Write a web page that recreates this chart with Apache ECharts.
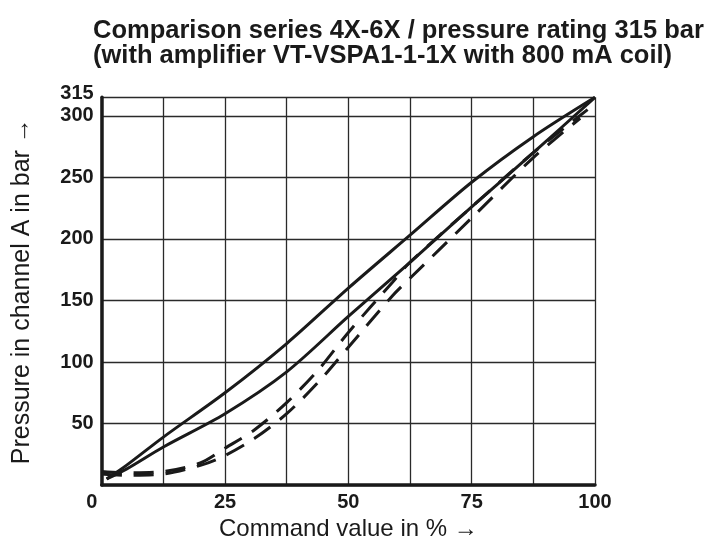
<!DOCTYPE html>
<html>
<head>
<meta charset="utf-8">
<script src="https://cdn.jsdelivr.net/npm/echarts@6/dist/echarts.min.js"></script>
<style>
html,body{margin:0;padding:0;background:#fff;}
#chart{width:713px;height:546px;}
</style>
</head>
<body>
<div id="chart"></div>
<script>
// Title lines
const titleLines = [
  'Comparison series 4X-6X / pressure rating 315 bar',
  '(with amplifier VT-VSPA1-1-1X with 800 mA coil)'
];
const xAxisName = 'Command value in % \u2192';
const yAxisName = 'Pressure in channel A in bar \u2192';
const xLabelValues = [0, 25, 50, 75, 100];
const yLabelValues = [50, 100, 150, 200, 250, 300, 315];

// Series 4X (solid) hysteresis loop: [command %, pressure bar]
const solidUpper = [[1, 5], [5, 16], [12.5, 39], [25, 75], [37.5, 115], [50, 160], [62.5, 203], [75, 246], [87.5, 283], [100, 315]];
const solidLower = [[1, 5], [5, 13], [12.5, 31], [25, 58], [37.5, 92], [50, 137], [62.5, 181], [75, 226], [87.5, 270], [100, 315]];
// Series 6X (dashed) hysteresis loop
const dashedUpper = [[0, 11], [5, 10], [12.5, 11], [20, 18], [25, 30], [31, 45], [37.5, 67], [44, 94], [50, 124], [59, 165], [62.5, 181], [75, 226], [87.5, 270], [98.5, 305]];
const dashedLower = [[0, 9], [5, 8], [12.5, 9], [20, 16], [25, 24], [31, 38], [37.5, 58], [44, 84], [50, 112], [59, 154], [62.5, 168], [75, 217], [87.5, 266], [97, 298]];

const ink = '#1a1a1a';
const labelFont = "'Liberation Sans',Arial,sans-serif";
const textFont = "'Liberation Sans',Arial,sans-serif";

const chart = echarts.init(document.getElementById('chart'), null, {renderer: 'canvas'});

function lineSeries(data, dashed) {
  return {
    type: 'line',
    data: data,
    smooth: 0.3,
    symbol: 'none',
    silent: true,
    lineStyle: {color: ink, width: 3, type: dashed ? [20, 12] : 'solid', cap: 'butt'},
    z: 5
  };
}

chart.setOption({
  animation: false,
  backgroundColor: '#fff',
  graphic: [
    {type: 'text', left: 93, top: 18.3, style: {text: titleLines[0], font: "bold 25.5px " + textFont, fill: ink}},
    {type: 'text', left: 93, top: 43, style: {text: titleLines[1], font: "bold 25.5px " + textFont, fill: ink}}
  ],
  grid: {left: 101.7, right: 118, top: 97.3, bottom: 55.3, containLabel: false},
  xAxis: {
    type: 'value', min: 0, max: 100, interval: 12.5,
    name: xAxisName, nameLocation: 'middle', nameGap: 31,
    nameTextStyle: {fontFamily: textFont, fontSize: 24, color: ink},
    axisLine: {show: true, onZero: false, lineStyle: {color: ink, width: 3.5}},
    axisTick: {show: false},
    splitLine: {show: true, lineStyle: {color: '#2a2a2a', width: 1.3}},
    axisLabel: {
      margin: 7, color: ink, fontFamily: labelFont, fontWeight: 'bold', fontSize: 20,
      formatter: function (v) {
        if (xLabelValues.indexOf(v) < 0) return '';
        if (v === 0) return '{z|0}';
        return String(v);
      },
      rich: {z: {fontFamily: labelFont, fontWeight: 'bold', fontSize: 20, color: ink, padding: [0, 20, 0, 0]}}
    }
  },
  yAxis: {
    type: 'value', min: 0, max: 315, interval: 50,
    name: yAxisName, nameLocation: 'middle', nameGap: 67, nameRotate: 90,
    nameTextStyle: {fontFamily: textFont, fontSize: 25, color: ink},
    axisLine: {show: true, onZero: false, lineStyle: {color: ink, width: 3.5}},
    axisTick: {show: false},
    splitLine: {show: true, lineStyle: {color: '#2a2a2a', width: 1.3}},
    axisLabel: {
      margin: 8, color: ink, fontFamily: labelFont, fontWeight: 'bold', fontSize: 20,
      showMinLabel: true, showMaxLabel: true,
      formatter: function (v) {
        if (yLabelValues.indexOf(v) < 0) return '';
        if (v === 315) return '{t|315}';
        return String(v);
      },
      rich: {t: {fontFamily: labelFont, fontWeight: 'bold', fontSize: 20, color: ink, padding: [0, 0, 8, 0]}}
    }
  },
  series: [
    lineSeries(solidUpper, false),
    lineSeries(solidLower, false),
    lineSeries(dashedUpper, true),
    lineSeries(dashedLower, true)
  ]
});
</script>
</body>
</html>
